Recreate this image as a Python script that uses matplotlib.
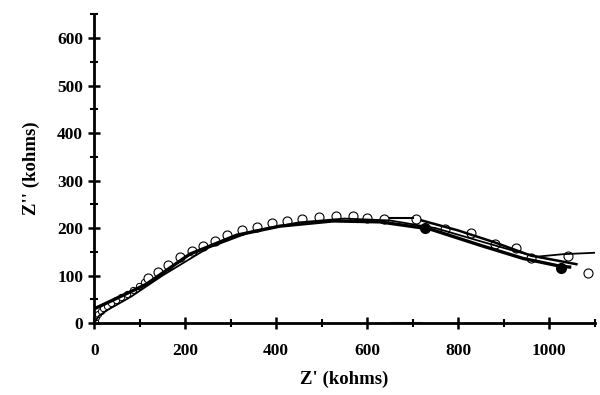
import numpy as np
import matplotlib.pyplot as plt
from matplotlib.ticker import MultipleLocator

# measured points near the origin (small open circles)
small_x = [2, 5, 9, 14, 20, 28, 38, 48, 60, 72, 85, 98, 110]
small_y = [5, 12, 20, 26, 31, 36, 42, 48, 55, 62, 70, 78, 86]

# measured points (open circles)
open_x = [119, 141, 163, 188, 214, 240, 265, 291, 324, 357, 390, 423,
          456, 494, 531, 568, 600, 637, 708, 771, 829, 881, 928, 961,
          1042, 1086]
open_y = [94, 108, 122, 140, 152, 163, 173, 185, 196, 203, 211, 215,
          220, 224, 225, 225, 222, 220, 220, 197, 190, 166, 159, 138,
          142, 105]

# filled circles
filled_x = [727, 1027]
filled_y = [200, 117]

# fitted curves
fit1_x = [0, 40, 115, 210, 313, 408, 525, 628, 738, 848, 943, 1023, 1045]
fit1_y = [30, 48, 82, 145, 185, 204, 215, 213, 198, 164, 136, 120, 118]

fit2_x = [0, 10, 30, 80, 150, 250, 350, 450, 550, 650, 750, 850, 930, 975, 1030, 1100]
fit2_y = [0, 15, 28, 55, 100, 158, 194, 212, 220, 216, 200, 172, 150, 140, 145, 148]

fit3_x = [650, 700]
fit3_y = [222, 222]

fit4_x = [720, 800, 880, 960, 1060]
fit4_y = [216, 195, 170, 142, 124]

fit5_x = [650, 720]
fit5_y = [2, 2]

fig = plt.figure(figsize=(6.0, 3.95), dpi=100)
ax = fig.add_axes([0.157, 0.182, 0.834, 0.782])

ax.plot(small_x, small_y, "o", mfc="white", mec="black", ms=4.5, mew=0.7, zorder=2)
ax.plot(open_x, open_y, "o", mfc="white", mec="black", ms=6.5, mew=0.8, zorder=2)
ax.plot(fit2_x, fit2_y, color="black", lw=1.3, zorder=3)
ax.plot(fit1_x, fit1_y, color="black", lw=2.4, zorder=3)
ax.plot(fit3_x, fit3_y, color="black", lw=1.5, zorder=3)
ax.plot(fit4_x, fit4_y, color="black", lw=1.8, zorder=3)
ax.plot(fit5_x, fit5_y, color="black", lw=0.8, alpha=0.6, zorder=3)
ax.plot(filled_x, filled_y, "o", color="black", ms=7, zorder=4)

ax.set_xlim(0, 1100)
ax.set_ylim(0, 650)
ax.spines["top"].set_visible(False)
ax.spines["right"].set_visible(False)
for s in ["left", "bottom"]:
    ax.spines[s].set_linewidth(2)
    ax.spines[s].set_clip_on(False)

ax.xaxis.set_major_locator(MultipleLocator(200))
ax.xaxis.set_minor_locator(MultipleLocator(100))
ax.yaxis.set_major_locator(MultipleLocator(100))
ax.yaxis.set_minor_locator(MultipleLocator(50))
ax.tick_params(which="major", direction="inout", length=9, width=1.8)
ax.tick_params(which="minor", direction="inout", length=6, width=1.5)
ax.tick_params(axis="x", which="major", pad=10)

font = dict(family="Liberation Serif", weight="bold")
for lab in ax.get_xticklabels() + ax.get_yticklabels():
    lab.set_fontfamily("Liberation Serif")
    lab.set_fontweight("bold")
    lab.set_fontsize(12.5)

ax.set_xlabel("Z' (kohms)", fontsize=13.5, labelpad=8, **font)
ax.set_ylabel("Z'' (kohms)", fontsize=13.5, labelpad=12, **font)

fig.savefig("out.png", dpi=100)
